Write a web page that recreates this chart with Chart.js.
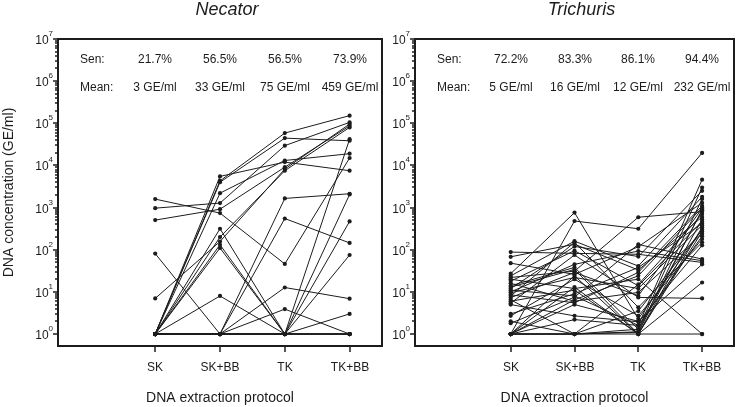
<!DOCTYPE html>
<html>
<head>
<meta charset="utf-8">
<script src="https://cdn.jsdelivr.net/npm/chart.js@4.4.1/dist/chart.umd.min.js"></script>
<style>
  body { margin: 0; background: #fff; width: 740px; height: 407px; position: relative; overflow: hidden; }
  .panel { position: absolute; top: 0; height: 407px; }
  #wrapL { left: 0; width: 388px; }
  #wrapR { left: 388px; width: 352px; }
</style>
</head>
<body>
<div id="wrapL" class="panel"><canvas id="necatorChart" width="388" height="407"></canvas></div>
<div id="wrapR" class="panel"><canvas id="trichurisChart" width="352" height="407"></canvas></div>
<script>
// =====================================================================
// DATA  (GE/ml per subject, negatives plotted at 1)
// =====================================================================
const protocols = ['SK', 'SK+BB', 'TK', 'TK+BB'];

// Necator, 23 subjects
const necatorSK   = [1590, 970, 505, 81, 7, 1, 1, 1, 1, 1, 1, 1, 1, 1, 1, 1, 1, 1, 1, 1, 1, 1, 1];
const necatorSKBB = [740, 1280, 915, 1, 157, 5500, 4300, 4000, 2200, 315, 200, 131, 110, 8, 1, 1, 1, 1, 1, 1, 1, 1, 1];
const necatorTK   = [46, 29500, 9100, 1650, 8200, 12000, 58600, 44500, 13100, 1, 7500, 1, 1, 1, 550, 12.7, 3.9, 1, 1, 1, 1, 1, 1];
const necatorTKBB = [15000, 105000, 87000, 2130, 96000, 7500, 152000, 38500, 19000, 42000, 80000, 470, 1, 2050, 145, 6.9, 1, 75, 3, 1, 1, 1, 1];
const necatorSen  = ['21.7%', '56.5%', '56.5%', '73.9%'];
const necatorMean = ['3 GE/ml', '33 GE/ml', '75 GE/ml', '459 GE/ml'];

// Trichuris, 36 subjects
const trichurisSK   = [88, 68, 48, 27, 24, 22, 20, 18, 16, 14, 12, 11, 10, 9.5, 8.5, 8, 7.3, 6.5, 6, 5.4, 5, 3, 2.7, 2, 1.8, 13, 1, 1, 1, 1, 1, 1, 1, 1, 1, 1];
const trichurisSKBB = [82, 135, 26, 760, 160, 31, 12, 95, 6, 38, 120, 8, 45, 22, 5.5, 150, 29, 1, 11, 75, 2.7, 9, 20, 1, 7.5, 34, 480, 13, 6.5, 24, 2.2, 1, 1, 5, 1, 1];
const trichurisTK   = [78, 33, 118, 2.3, 41, 590, 20, 14, 9.7, 1.3, 69, 1.6, 93, 12, 29, 4.3, 8.1, 15, 1, 7.4, 1.95, 38, 2.7, 1.13, 134, 1, 315, 1, 24, 1, 1.6, 1.3, 1, 2, 1.1, 3.5];
const trichurisTKBB = [50, 600, 1300, 300, 1800, 800, 1, 470, 240, 860, 2500, 210, 55, 380, 1100, 150, 950, 700, 340, 7, 127, 420, 180, 1600, 60, 270, 19800, 16.7, 1000, 525, 4600, 3000, 1, 45, 880, 300];
const trichurisSen  = ['72.2%', '83.3%', '86.1%', '94.4%'];
const trichurisMean = ['5 GE/ml', '16 GE/ml', '12 GE/ml', '232 GE/ml'];

const INK = '#1c1c1c';
const FONT = 'Arial, "Liberation Sans", Helvetica, sans-serif';

// =====================================================================
// HELPERS
// =====================================================================
function buildSubjects(sk, skbb, tk, tkbb) {
    return sk.map((v, i) => ({
        data: [{ x: 1, y: v }, { x: 2, y: skbb[i] }, { x: 3, y: tk[i] }, { x: 4, y: tkbb[i] }],
        borderColor: INK,
        borderWidth: 1,
        pointRadius: 2.1,
        pointBackgroundColor: INK,
        pointBorderWidth: 0,
        tension: 0,
        fill: false
    }));
}

// axes, frame and texts drawn on top of the library scales
function panelDecor(title, sen, mean, withYTitle) {
    return {
        id: 'panelDecor',
        afterDraw(chart) {
            const { ctx, chartArea: a, scales: { x, y } } = chart;
            ctx.save();
            ctx.strokeStyle = INK;
            ctx.fillStyle = INK;

            // frame
            ctx.lineWidth = 2;
            ctx.strokeRect(a.left, a.top, a.right - a.left, a.bottom - a.top);

            // y ticks (major + minor)
            ctx.lineWidth = 1.5;
            for (let e = 0; e <= 7; e++) {
                const py = Math.round(y.getPixelForValue(Math.pow(10, e)));
                ctx.beginPath(); ctx.moveTo(a.left - 5, py); ctx.lineTo(a.left, py); ctx.stroke();
                if (e < 7) {
                    for (let k = 2; k <= 9; k++) {
                        const my = Math.round(y.getPixelForValue(k * Math.pow(10, e)));
                        ctx.beginPath(); ctx.moveTo(a.left - 3, my); ctx.lineTo(a.left, my); ctx.stroke();
                    }
                }
                // label 10^e
                ctx.font = '8px ' + FONT;
                const expW = ctx.measureText(String(e)).width;
                ctx.textBaseline = 'middle';
                ctx.textAlign = 'left';
                ctx.fillText(String(e), a.left - 5 - expW, py - 5);
                ctx.font = '12px ' + FONT;
                ctx.textAlign = 'right';
                ctx.fillText('10', a.left - 5 - expW, py + 2);
            }

            // x ticks + labels
            ctx.font = '12px ' + FONT;
            ctx.textAlign = 'center';
            ctx.textBaseline = 'middle';
            protocols.forEach((p, i) => {
                const px = Math.round(x.getPixelForValue(i + 1));
                ctx.beginPath(); ctx.moveTo(px, a.bottom); ctx.lineTo(px, a.bottom + 6); ctx.stroke();
                ctx.fillText(p, px, 368);
                // sensitivity / mean rows
                ctx.fillText(sen[i], px, 60);
                ctx.fillText(mean[i], px, 88);
            });
            ctx.textAlign = 'left';
            ctx.fillText('Sen:', a.left + 22, 60);
            ctx.fillText('Mean:', a.left + 22, 88);

            // titles
            const cx = (a.left + a.right) / 2;
            ctx.textAlign = 'center';
            ctx.font = 'italic 18px ' + FONT;
            ctx.fillText(title, cx + 7, 10);
            ctx.font = '14px ' + FONT;
            ctx.fillText('DNA extraction protocol', cx, 398);
            if (withYTitle) {
                ctx.translate(9, (a.top + a.bottom) / 2);
                ctx.rotate(-Math.PI / 2);
                ctx.fillText('DNA concentration (GE/ml)', 0, 0);
            }
            ctx.restore();
        }
    };
}

function makePanel(canvasId, datasets, title, sen, mean, withYTitle, padLeft) {
    return new Chart(document.getElementById(canvasId).getContext('2d'), {
        type: 'line',
        data: { datasets },
        options: {
            responsive: false,
            animation: false,
            devicePixelRatio: 1,
            layout: { padding: { left: padLeft, right: 6, top: 39, bottom: 61 } },
            plugins: { legend: { display: false }, tooltip: { enabled: false } },
            scales: {
                x: { type: 'linear', min: -0.5, max: 4.5, display: false },
                y: { type: 'logarithmic', min: 0.52, max: 1e7, display: false }
            }
        },
        plugins: [panelDecor(title, sen, mean, withYTitle)]
    });
}

makePanel('necatorChart', buildSubjects(necatorSK, necatorSKBB, necatorTK, necatorTKBB),
    'Necator', necatorSen, necatorMean, true, 58);
makePanel('trichurisChart', buildSubjects(trichurisSK, trichurisSKBB, trichurisTK, trichurisTKBB),
    'Trichuris', trichurisSen, trichurisMean, false, 27);
</script>
</body>
</html>
